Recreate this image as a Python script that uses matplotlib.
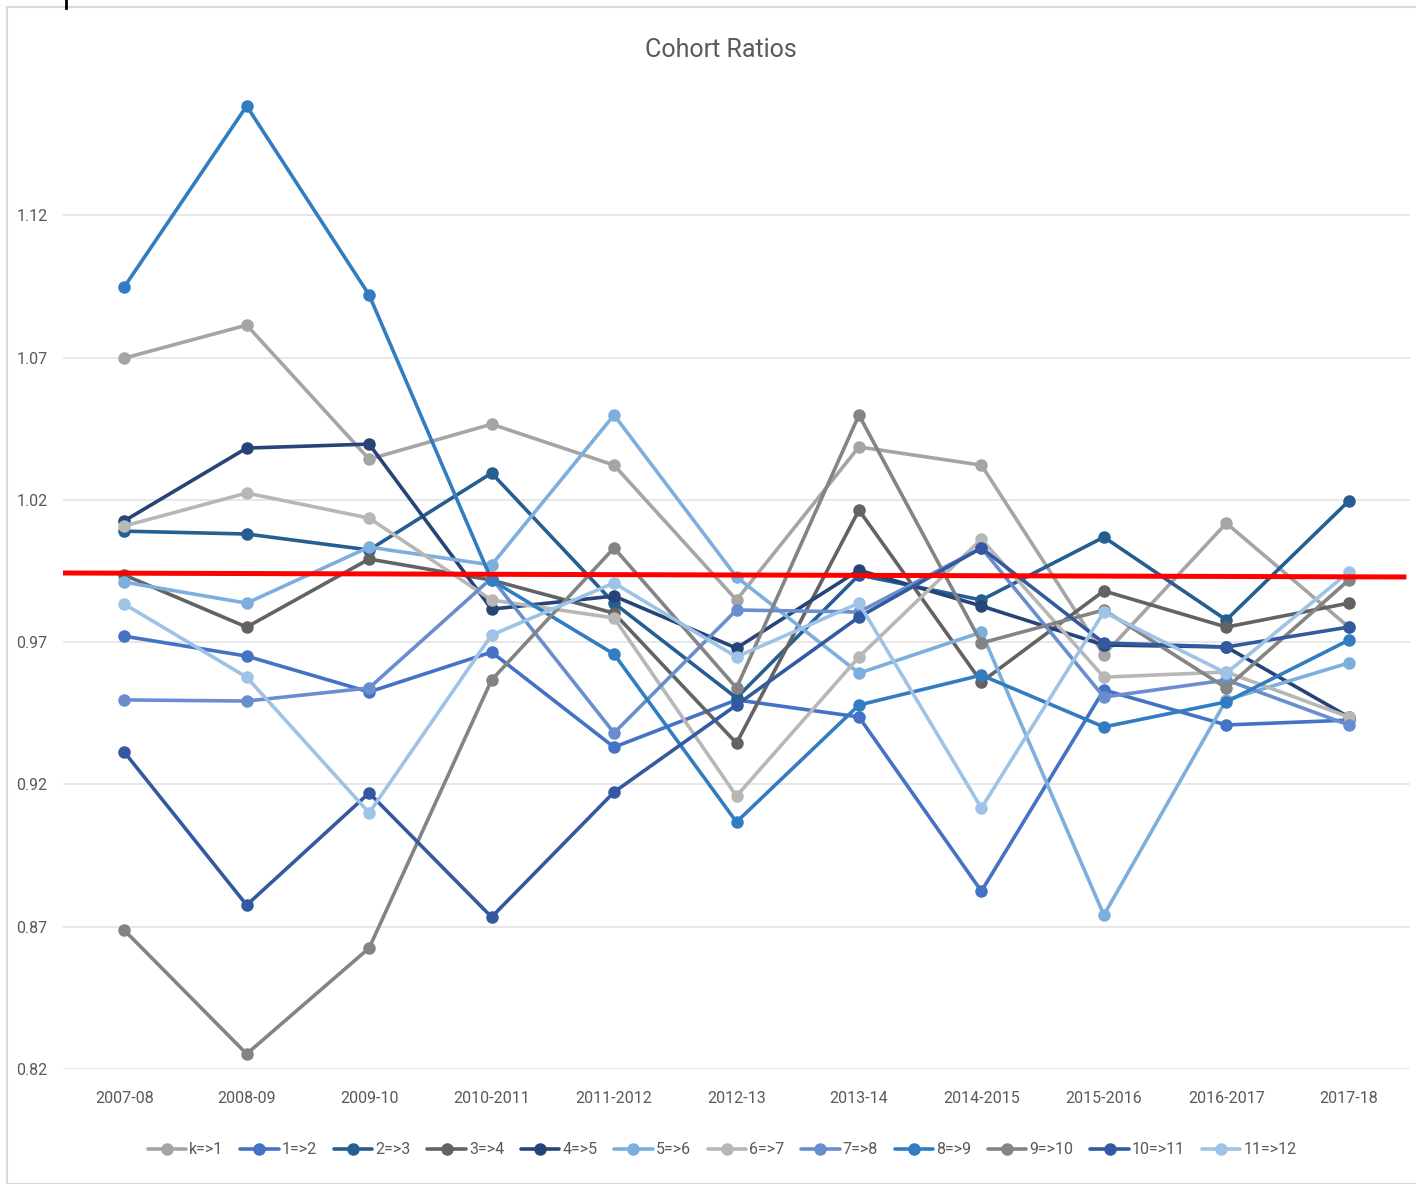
import matplotlib.pyplot as plt
from matplotlib.lines import Line2D
from matplotlib.patches import Rectangle

# Category labels and series values
years = ['2007-08', '2008-09', '2009-10', '2010-2011', '2011-2012', '2012-13',
         '2013-14', '2014-2015', '2015-2016', '2016-2017', '2017-18']

k_1 = [1.0698, 1.0814, 1.0343, 1.0466, 1.0322, 0.9848, 1.0386, 1.0322, 0.9655, 1.0118, 0.9753]
g1_2 = [0.9721, 0.9651, 0.9525, 0.9665, 0.9331, 0.9497, 0.9437, 0.8825, 0.9532, 0.9409, 0.9426]
g2_3 = [1.0090, 1.0080, 1.0024, 1.0294, 0.9837, 0.9504, 0.9936, 0.9848, 1.0069, 0.9778, 1.0196]
g3_4 = [0.9936, 0.9753, 0.9992, 0.9918, 0.9802, 0.9345, 1.0164, 0.9560, 0.9880, 0.9753, 0.9837]
g4_5 = [1.0126, 1.0382, 1.0396, 0.9816, 0.9862, 0.9679, 0.9953, 0.9827, 0.9690, 0.9683, 0.9437]
g5_6 = [0.9911, 0.9837, 1.0034, 0.9971, 1.0498, 0.9929, 0.9591, 0.9735, 0.8741, 0.9497, 0.9627]
g6_7 = [1.0108, 1.0224, 1.0136, 0.9848, 0.9785, 0.9159, 0.9648, 1.0062, 0.9577, 0.9595, 0.9437]
g7_8 = [0.9497, 0.9493, 0.9539, 0.9925, 0.9381, 0.9813, 0.9806, 1.0031, 0.9507, 0.9567, 0.9409]
g8_9 = [1.0948, 1.1584, 1.0920, 0.9918, 0.9658, 0.9068, 0.9479, 0.9584, 0.9402, 0.9490, 0.9707]
g9_10 = [0.8688, 0.8253, 0.8625, 0.9567, 1.0031, 0.9539, 1.0498, 0.9697, 0.9813, 0.9539, 0.9918]
g10_11 = [0.9314, 0.8776, 0.9170, 0.8734, 0.9173, 0.9479, 0.9788, 1.0031, 0.9697, 0.9683, 0.9753]
g11_12 = [0.9834, 0.9577, 0.9100, 0.9725, 0.9908, 0.9648, 0.9837, 0.9117, 0.9806, 0.9591, 0.9946]

series_names = ['k=>1', '1=>2', '2=>3', '3=>4', '4=>5', '5=>6',
                '6=>7', '7=>8', '8=>9', '9=>10', '10=>11', '11=>12']
series_vals = [k_1, g1_2, g2_3, g3_4, g4_5, g5_6, g6_7, g7_8, g8_9, g9_10, g10_11, g11_12]
colors = ['#A5A5A5', '#4472C4', '#255E91', '#636363', '#264478', '#7CAFDD',
          '#B7B7B7', '#698ED0', '#327DC2', '#848484', '#335AA1', '#9DC3E6']

y_ticks = [0.82, 0.87, 0.92, 0.97, 1.02, 1.07, 1.12]

# red reference line drawn over the chart (slightly tilted)
red_x = [-0.51, 10.45]
red_y = [0.9943, 0.9929]

plt.rcParams['font.family'] = ['Roboto', 'DejaVu Sans']

fig = plt.figure(figsize=(14.16, 11.84), dpi=100)
# chart area border and the small cursor mark at the top
fig.patches.append(Rectangle((7 / 1416, 0), 1.2, 1 - 7 / 1184, transform=fig.transFigure,
                             fill=False, edgecolor='#D9D9D9', linewidth=1.5))
fig.add_artist(Line2D([66 / 1416, 66 / 1416], [1 - 8 / 1184, 1.0], transform=fig.transFigure,
                      color='black', linewidth=2))

ax = fig.add_axes([63 / 1416, 1 - 1069 / 1184, (1410 - 63) / 1416, (1069 - 73) / 1184])

x = list(range(len(years)))
for name, vals, c in zip(series_names, series_vals, colors):
    ax.plot(x, vals, color=c, linewidth=2.6, marker='o', markersize=8,
            label=name, solid_capstyle='round')

ax.plot(red_x, red_y, color='#FF0000', linewidth=3.6, zorder=5)

ax.set_xlim(-0.5, 10.5)
ax.set_ylim(0.82, 1.17)
ax.set_yticks(y_ticks)
ax.set_yticklabels([f'{v:.2f}' for v in y_ticks])
ax.set_xticks(x)
ax.set_xticklabels(years)
ax.tick_params(axis='both', length=0, labelsize=11.5, labelcolor='#595959')
ax.tick_params(axis='x', pad=16)
ax.tick_params(axis='y', pad=11)
ax.grid(axis='y', color='#E3E3E3', linewidth=1.2)
ax.set_axisbelow(True)
for s in ax.spines.values():
    s.set_visible(False)

fig.text(0.509, 1 - 50 / 1184, 'Cohort Ratios', ha='center', va='center',
         fontsize=18, color='#595959')

fig.legend(loc='center', bbox_to_anchor=(0.51, 1 - 1150 / 1184), ncol=12, frameon=False,
           fontsize=11.5, labelcolor='#595959', handlelength=2.4, handletextpad=0.2,
           columnspacing=1.05)

fig.savefig('out.png', dpi=100)
